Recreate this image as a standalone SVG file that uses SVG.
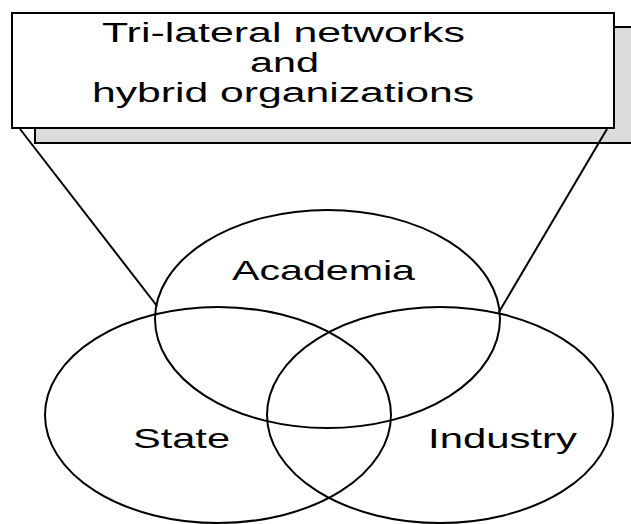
<svg xmlns="http://www.w3.org/2000/svg" width="631" height="524" viewBox="0 0 631 524">
<style>
.ln{stroke:#000;stroke-width:2;fill:none}
.box{stroke:#000;stroke-width:2}
.t{font-family:"Liberation Sans",Arial,sans-serif;fill:#000}
.title{font-size:27px}
.lbl{font-size:28px}
</style>
<rect width="631" height="524" fill="#fff"/>
<g id="title-box">
<rect class="box" x="35" y="27" width="610" height="116" fill="#dcdcdc"/>
<rect class="box" x="12" y="13" width="602" height="115" fill="#fff"/>
<text class="t title" x="102" y="42" textLength="363" lengthAdjust="spacingAndGlyphs">Tri-lateral networks</text>
<text class="t title" x="250" y="72" textLength="69" lengthAdjust="spacingAndGlyphs">and</text>
<text class="t title" x="92" y="102" textLength="382" lengthAdjust="spacingAndGlyphs">hybrid organizations</text>
</g>
<g id="connectors">
<line class="ln" x1="20" y1="129" x2="157" y2="306"/>
<line class="ln" x1="607" y1="129" x2="499" y2="312"/>
</g>
<g id="academia">
<ellipse class="ln" cx="327.5" cy="319" rx="172.5" ry="109"/>
<text class="t lbl" x="232" y="280" textLength="183" lengthAdjust="spacingAndGlyphs">Academia</text>
</g>
<g id="state">
<ellipse class="ln" cx="218" cy="415" rx="173" ry="108"/>
<text class="t lbl" x="133" y="448" textLength="97" lengthAdjust="spacingAndGlyphs">State</text>
</g>
<g id="industry">
<ellipse class="ln" cx="440" cy="415" rx="173" ry="108"/>
<text class="t lbl" x="428" y="448" textLength="149" lengthAdjust="spacingAndGlyphs">Industry</text>
</g>
</svg>
